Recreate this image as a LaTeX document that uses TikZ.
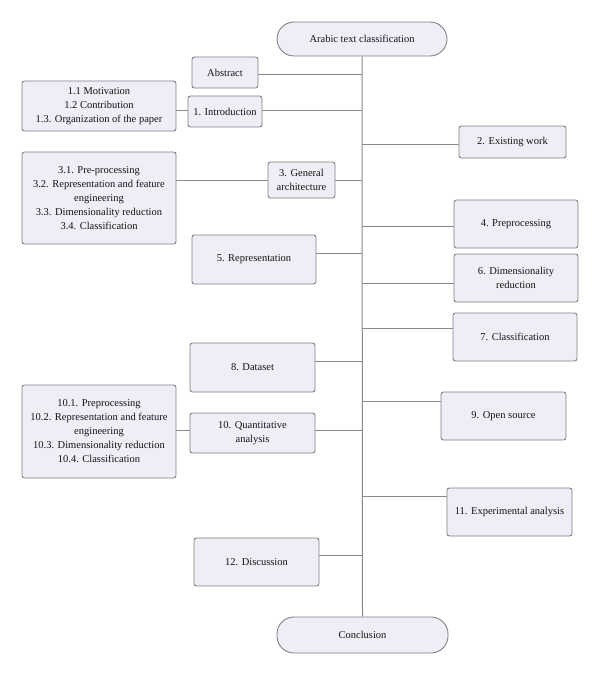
\documentclass[tikz,border=0pt]{standalone}
\usepackage{fontspec}
\setmainfont{Liberation Serif}
\definecolor{boxfill}{RGB}{238,238,247}
\definecolor{boxline}{RGB}{128,128,132}
\definecolor{linkgray}{RGB}{138,138,140}
\definecolor{txt}{RGB}{20,20,20}
\begin{document}
\begin{tikzpicture}[x=1pt,y=-1pt,
 box/.style={draw=boxline,fill=boxfill,line width=.9pt,rounded corners=2.5pt,align=center,inner sep=1pt,text=txt,font=\fontsize{10.5}{14}\selectfont},
 term/.style={box,rounded corners=17pt},
 link/.style={draw=linkgray,line width=1pt}]
\useasboundingbox (0,0) rectangle (600,674);
\node[term,minimum width=170pt,minimum height=34pt] (top) at (362,39){Arabic text classification};
\node[term,minimum width=171pt,minimum height=36pt] (concl) at (362.5,635){Conclusion};
\draw[link] (top.south)--(concl.north);

\node[box,minimum width=66pt,minimum height=31pt] (abs) at (225,72.5){Abstract};
\node[box,minimum width=74pt,minimum height=31pt] (intro) at (225,111.5){1. Introduction};
\node[box,minimum width=154pt,minimum height=50pt] (sub1) at (99,106){1.1 Motivation\\1.2 Contribution\\1.3. Organization of the paper};
\node[box,minimum width=107pt,minimum height=32pt] (exist) at (512.5,142){2. Existing work};
\node[box,minimum width=67pt,minimum height=36pt] (arch) at (301.5,180){3. General\\architecture};
\node[box,minimum width=154pt,minimum height=92pt] (sub3) at (99,198){3.1. Pre-processing\\3.2. Representation and feature\\engineering\\3.3. Dimensionality reduction\\3.4. Classification};
\node[box,minimum width=124pt,minimum height=48pt] (prep) at (516,224){4. Preprocessing};
\node[box,minimum width=124pt,minimum height=49pt] (repr) at (254,259.5){5. Representation};
\node[box,minimum width=124pt,minimum height=48pt] (dim) at (516,278){6. Dimensionality\\reduction};
\node[box,minimum width=124pt,minimum height=48pt] (clas) at (515,337){7. Classification};
\node[box,minimum width=125pt,minimum height=49pt] (data) at (252.5,367.5){8. Dataset};
\node[box,minimum width=125pt,minimum height=48pt] (open) at (503.5,416){9. Open source};
\node[box,minimum width=125pt,minimum height=40pt] (quant) at (252.5,433){10. Quantitative\\analysis};
\node[box,minimum width=154pt,minimum height=93pt] (sub10) at (99,431.5){10.1. Preprocessing\\10.2. Representation and feature\\engineering\\10.3. Dimensionality reduction\\10.4. Classification};
\node[box,minimum width=125pt,minimum height=48pt] (exp) at (509.5,512){11. Experimental analysis};
\node[box,minimum width=125pt,minimum height=48pt] (disc) at (256.5,562){12. Discussion};

% junctions on the spine
\foreach \n/\y in {abs/75,intro/111,arch/180,repr/253,data/361,quant/430,disc/555}
  \coordinate (j-\n) at (362,\y);
\foreach \n/\y in {exist/144,prep/226,dim/283,clas/328,open/401,exp/496}
  \coordinate (j-\n) at (362,\y);

\foreach \n in {abs,intro,arch,repr,data,quant,disc}
  \draw[link] (j-\n)--(\n.east |- j-\n);
\foreach \n in {exist,prep,dim,clas,open,exp}
  \draw[link] (j-\n)--(\n.west |- j-\n);

\draw[link] (sub1.east |- j-intro)--(intro.west |- j-intro);
\draw[link] (sub3.east |- j-arch)--(arch.west |- j-arch);
\draw[link] (sub10.east |- j-quant)--(quant.west |- j-quant);
\end{tikzpicture}
\end{document}
